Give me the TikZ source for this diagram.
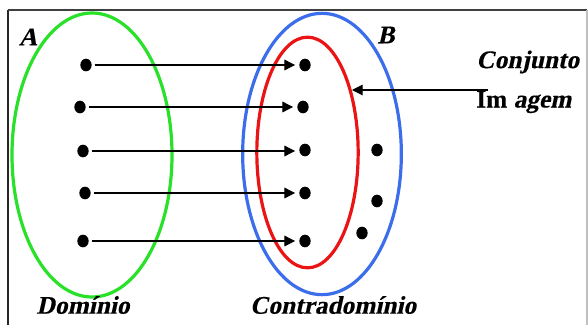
\documentclass[tikz,border=0pt]{standalone}
\usepackage{fontspec}
\newfontfamily\lblfont{Liberation Serif}[FakeSlant=0.22,FakeBold=0.3]
\newfontfamily\lblup{Liberation Serif}[FakeBold=0.3]
\usetikzlibrary{shapes.geometric,arrows.meta}
\definecolor{setgreen}{RGB}{40,225,40}
\definecolor{setblue}{RGB}{60,110,235}
\definecolor{setred}{RGB}{235,20,20}
\tikzset{
  px/.style={x=0.75pt,y=-0.75pt},
  dot/.style={ellipse,fill=black,inner sep=0pt,minimum width=8.5pt,minimum height=9.5pt},
  setshape/.style={ellipse,draw,line width=2.4pt,inner sep=0pt},
  arr/.style={-{Triangle[length=8pt,width=8pt]},line width=0.8pt},
  lbl/.style={font=\fontsize{19}{23}\selectfont\lblfont\bfseries,inner sep=0pt}
}
\begin{document}
\begin{tikzpicture}[px]
\useasboundingbox (0,0) rectangle (588,325);
% frame
\draw[line width=1.5pt,black!85] (8,325) -- (8,10);
\draw[line width=1.5pt,black!75] (8,10) -- (587,10);
\draw[line width=1.2pt,black!25] (587,10) -- (587,325);
% sets
\node[setshape,draw=setgreen,minimum width=120pt,minimum height=213pt] (setA) at (92,155) {};
\node[setshape,draw=setblue,minimum width=119pt,minimum height=211pt] (setB) at (322,154) {};
\node[setshape,draw=setred,minimum width=76pt,minimum height=173pt] (setIm) at (307.5,152.5) {};
% dots A
\node[dot] (a1) at (86,65) {};
\node[dot] (a2) at (80,107) {};
\node[dot] (a3) at (83,151) {};
\node[dot] (a4) at (85,193) {};
\node[dot] (a5) at (83,241) {};
% dots B
\node[dot] (b1) at (305,65) {};
\node[dot] (b2) at (303,107) {};
\node[dot] (b3) at (305,150) {};
\node[dot] (b4) at (305,193) {};
\node[dot] (b5) at (305,241) {};
\node[dot] (b6) at (377,150) {};
\node[dot] (b7) at (377,201) {};
\node[dot] (b8) at (362,233) {};
% mapping arrows
\foreach \i in {1,...,5}{
  \draw[arr,shorten <=2pt,shorten >=3pt] (a\i.east) -- (a\i.east -| b\i.west);
}
% image arrow
\coordinate (imfrom) at (488,90);
\coordinate (imtip) at (352,90);
\draw[arr] (imfrom) -- (imtip);
% labels
\node[lbl] (labA) at (28,37) {A};
\node[lbl] (labB) at (386,35) {B};
\node[lbl,anchor=west] (conj) at (476,62) {Conjunto};
\node[lbl,anchor=west] (imag) at (476,102) {{\lblup\bfseries Im} agem};
\node[lbl] (dom) at (83,305) {Domínio};
\node[lbl] (cdom) at (333,305) {Contradomínio};
\end{tikzpicture}
\end{document}
